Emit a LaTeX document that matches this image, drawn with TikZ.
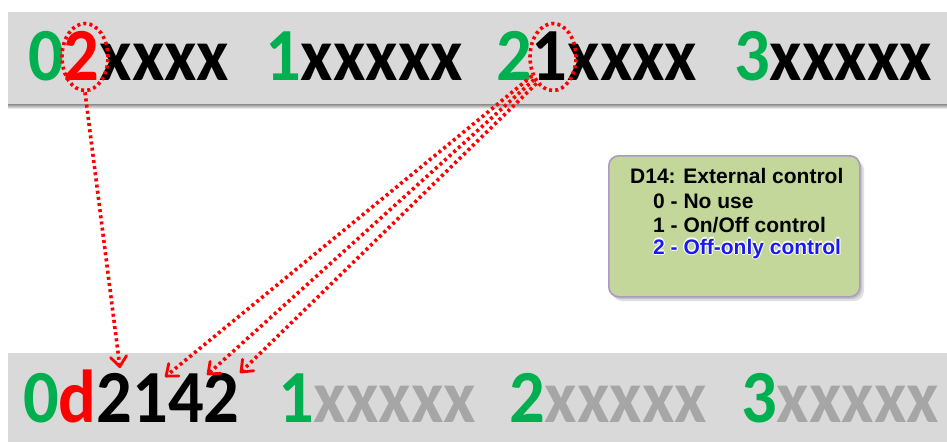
\documentclass[tikz,border=0pt]{standalone}
\usepackage{fontspec}
\usepackage{graphicx}
\setmainfont{Liberation Sans}
\newfontfamily\bigfont{Carlito}
\usetikzlibrary{arrows.meta,shapes.geometric}
\definecolor{offgreen}{HTML}{00B050}
\definecolor{band}{HTML}{D9D9D9}
\definecolor{xgray}{HTML}{A6A6A6}
\definecolor{boxfill}{HTML}{C4D79B}
\definecolor{boxline}{HTML}{A99BC4}
\definecolor{optblue}{HTML}{1A1AF0}
\newcommand{\bigtxt}[1]{\scalebox{0.94}[1]{#1}}
\begin{document}
\begin{tikzpicture}[x=1pt,y=-1pt,
  big/.style={font=\bigfont\bfseries\fontsize{75}{80}\selectfont, inner sep=0pt, anchor=base west},
  small/.style={font=\bfseries\fontsize{21}{24}\selectfont, inner sep=0pt, anchor=base west},
  hilite/.style={draw=red, line width=3.6pt, dash pattern=on 3pt off 3.2pt, ellipse, minimum width=46pt, minimum height=67pt, inner sep=0pt},
  link/.style={red, line width=3.6pt, dash pattern=on 3pt off 3.2pt, -{Straight Barb[length=10pt,width=16pt,line width=2.8pt,round]}}]
\useasboundingbox (0,0) rectangle (947,442);
\fill[white] (0,0) rectangle (947,442);
% bands
\shade[top color=black!55, bottom color=white] (8,103) rectangle (947,109);
\fill[band] (8,12) rectangle (947,104);
\fill[band] (8,353) rectangle (947,442);
% top row
\node[big] (g1) at (28,80) {\bigtxt{{\color{offgreen}0}{\color{red}2}xxxx}};
\node[big] (g2) at (265,80) {\bigtxt{{\color{offgreen}1}xxxxx}};
\node[big] (g3) at (496,80) {\bigtxt{{\color{offgreen}2}1xxxx}};
\node[big] (g4) at (734,80) {\bigtxt{{\color{offgreen}3}xxxxx}};
% bottom row
\node[big] (h1) at (23,422) {\bigtxt{{\color{offgreen}0}{\color{red}d}2142}};
\node[big] (h2) at (278,422) {\bigtxt{{\color{offgreen}1}{\color{xgray}xxxxx}}};
\node[big] (h3) at (509,422) {\bigtxt{{\color{offgreen}2}{\color{xgray}xxxxx}}};
\node[big] (h4) at (741,422) {\bigtxt{{\color{offgreen}3}{\color{xgray}xxxxx}}};
% highlights
\node[hilite] (c1) at (85,57) {};
\node[hilite] (c2) at (553,57) {};
% targets
\coordinate (t1) at (120,368);
\coordinate (t2) at (165,377);
\coordinate (t3) at (207,375);
\coordinate (t4) at (240,373);
\draw[link] (c1.south) -- (t1);
\draw[link] (c2.222) -- (t2);
\draw[link] (c2.230) -- (t3);
\draw[link] (c2.238) -- (t4);
% info box
\fill[black, opacity=0.12, rounded corners=10pt] (612,160) rectangle (864,301);
\fill[black, opacity=0.12, rounded corners=10pt] (611,159) rectangle (862,299);
\node[draw=boxline, line width=1.6pt, fill=boxfill, rounded corners=10pt, minimum width=251pt, minimum height=141pt, inner sep=0pt, anchor=north west] (box) at (608,155) {};
\node[small] (l1) at (630,183) {D14: External control};
\node[small] (l2) at (653,208) {0 - No use};
\node[small] (l3) at (653,232) {1 - On/Off control};
\foreach \dx/\dy in {-1.2/0,1.2/0,0/-1.2,0/1.2}
  \node[small, white] at (653+\dx,254+\dy) {2 - Off-only control};
\node[small, optblue] (l4) at (653,254) {2 - Off-only control};
\end{tikzpicture}
\end{document}
